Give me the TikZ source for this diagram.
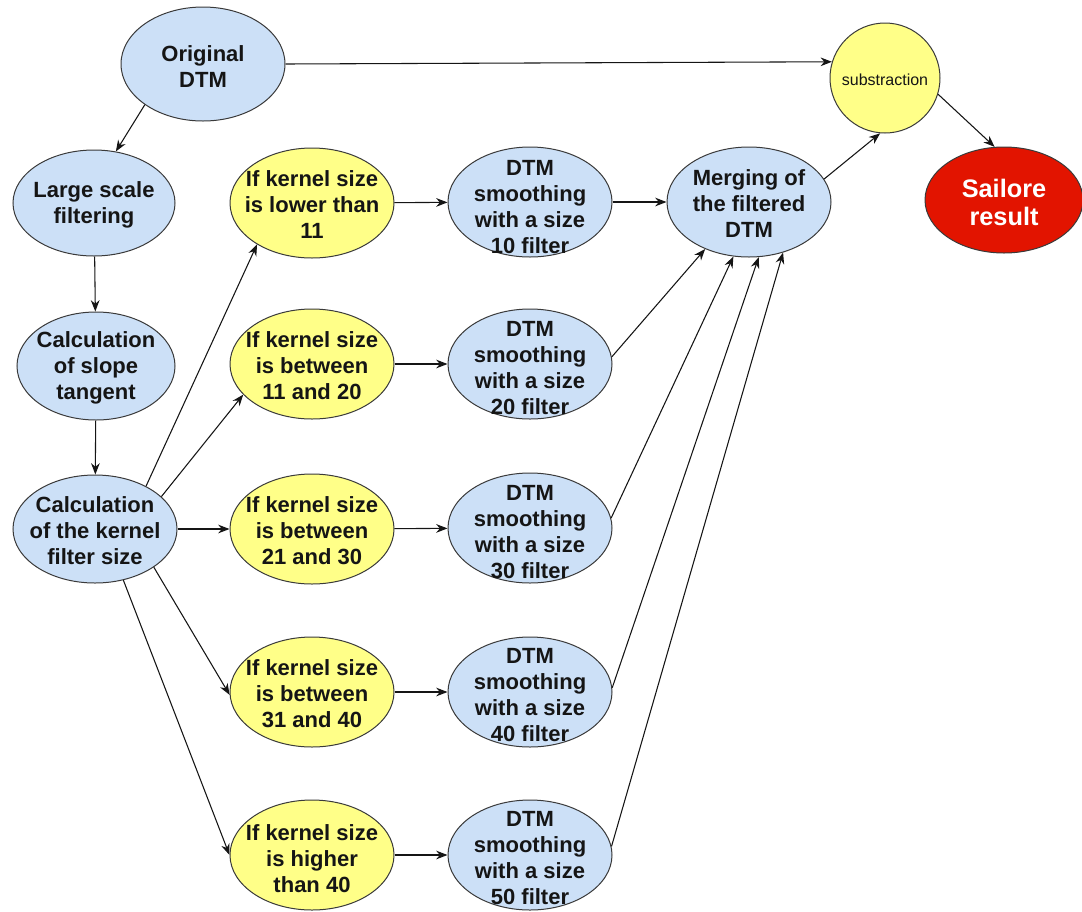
\documentclass[tikz,border=0pt]{standalone}
\usepackage{fontspec}
\setmainfont{Liberation Sans}
\usetikzlibrary{shapes.geometric,arrows.meta}
\definecolor{blu}{HTML}{CCE0F7}
\definecolor{yel}{HTML}{FFFF88}
\definecolor{redn}{HTML}{E21400}
\definecolor{edgec}{HTML}{3A3A3A}
\definecolor{ink}{HTML}{151515}
\begin{document}
\begin{tikzpicture}[x=0.75pt,y=-0.75pt,
  bub/.style={ellipse,draw=edgec,line width=0.75pt,inner sep=0pt,minimum width=123pt,minimum height=82.5pt},
  bluebub/.style={bub,fill=blu},
  yelbub/.style={bub,fill=yel},
  txt/.style={font=\bfseries\fontsize{16.5}{19.5}\selectfont,align=center,text=ink,inner sep=0pt},
  arr/.style={-{Stealth[length=8.5pt,width=6.5pt]},line width=0.8pt,draw=ink}]
\useasboundingbox (0,0) rectangle (1082,911);

% nodes
\node[bluebub,minimum height=85.5pt] (orig) at (203,64) {};
\node[txt] (origt) at (203,67) {Original\\DTM};

\node[circle,draw=edgec,line width=0.75pt,fill=yel,minimum size=82.5pt,inner sep=0pt] (sub) at (885,78) {};
\node[font=\fontsize{12}{14}\selectfont,text=ink,inner sep=0pt] (subt) at (885,80) {substraction};

\node[ellipse,draw=edgec,line width=0.75pt,fill=redn,minimum width=118.5pt,minimum height=79.5pt,inner sep=0pt] (sail) at (1004,200) {};
\node[font=\bfseries\fontsize{19}{21}\selectfont,text=white,align=center,inner sep=0pt] (sailt) at (1004,202) {Sailore\\result};

\node[bluebub,minimum width=121.5pt,minimum height=79.5pt] (large) at (94,203) {};
\node[txt] (larget) at (94,205) {Large scale\\filtering};

\node[bluebub,minimum width=118.5pt,minimum height=81pt] (slope) at (96,366) {};
\node[txt] (slopet) at (96,368) {Calculation\\of slope\\tangent};

\node[bluebub,minimum height=81pt] (kernel) at (95,529) {};
\node[txt] (kernelt) at (95,531) {Calculation\\of the kernel\\filter size};

\node[yelbub] (y1) at (312,203) {};
\node[txt] (y1t) at (312,205) {If kernel size\\is lower than\\11};
\node[yelbub] (y2) at (312,364) {};
\node[txt] (y2t) at (312,366) {If kernel size\\is between\\11 and 20};
\node[yelbub] (y3) at (312,529) {};
\node[txt] (y3t) at (312,531) {If kernel size\\is between\\21 and 30};
\node[yelbub] (y4) at (312,692) {};
\node[txt] (y4t) at (312,694) {If kernel size\\is between\\31 and 40};
\node[yelbub] (y5) at (312,855) {};
\node[txt] (y5t) at (312,859) {If kernel size\\is higher\\than 40};

\node[bluebub] (d1) at (530,202) {};
\node[txt] (d1t) at (530,207) {DTM\\smoothing\\with a size\\10 filter};
\node[bluebub] (d2) at (530,364) {};
\node[txt] (d2t) at (530,368) {DTM\\smoothing\\with a size\\20 filter};
\node[bluebub] (d3) at (530,528) {};
\node[txt] (d3t) at (530,532) {DTM\\smoothing\\with a size\\30 filter};
\node[bluebub] (d4) at (530,692) {};
\node[txt] (d4t) at (530,695) {DTM\\smoothing\\with a size\\40 filter};
\node[bluebub] (d5) at (530,855) {};
\node[txt] (d5t) at (530,858) {DTM\\smoothing\\with a size\\50 filter};

\node[bluebub] (merge) at (749,202) {};
\node[txt] (merget) at (749,204) {Merging of\\the filtered\\DTM};

% connectors
\draw[arr] (orig.east) -- (sub.163);
\draw[arr] (orig.215) -- (large.67);
\draw[arr] (large) -- (slope);
\draw[arr] (slope) -- (kernel);
\draw[arr] (kernel.40) -- (y1.217);
\draw[arr] (kernel.26) -- (y2.204);
\draw[arr] (kernel) -- (y3);
\draw[arr] (kernel.-33) -- (y4.182);
\draw[arr] (kernel.-61) -- (y5.west);
\draw[arr] (y1) -- (d1);
\draw[arr] (y2) -- (d2);
\draw[arr] (y3) -- (d3);
\draw[arr] (y4) -- (d4);
\draw[arr] (y5) -- (d5);
\draw[arr] (d1) -- (merge);
\draw[arr] (d2.5) -- (merge.227);
\draw[arr] (d3.7) -- (merge.254);
\draw[arr] (d4.3) -- (merge.280);
\draw[arr] (d5.6) -- (merge.304);
\draw[arr] (merge.17) -- (sub.265);
\draw[arr] (sub.-17) -- (sail.100);
\end{tikzpicture}
\end{document}
